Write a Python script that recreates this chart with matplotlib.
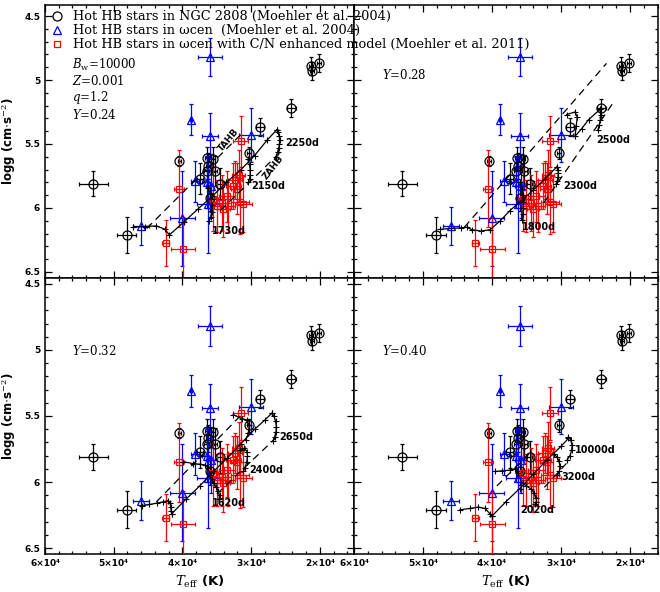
import matplotlib
matplotlib.use('Agg')
import matplotlib.pyplot as plt
from matplotlib.ticker import MultipleLocator, FixedLocator

plt.rcParams['font.family'] = ['DejaVu Sans']
plt.rcParams['mathtext.fontset'] = 'dejavuserif'

# ---------------- observational data ----------------
# NGC 2808 hot HB stars (Moehler et al. 2004)
ngc_T    = [53000, 48100, 40450, 36400, 36250, 35500, 36500, 35300, 37450, 34550, 36000, 30300, 28700, 24150, 21350, 21100, 20150]
ngc_g    = [5.81, 6.21, 5.63, 5.61, 5.67, 5.62, 5.71, 5.71, 5.77, 5.81, 5.92, 5.57, 5.37, 5.22, 4.89, 4.93, 4.87]
ngc_Terr = [2100, 1400, 250, 300, 300, 300, 300, 350, 500, 400, 400, 300, 600, 700, 300, 300, 300]
ngc_gerr = [0.10, 0.14, 0.04, 0.09, 0.10, 0.10, 0.12, 0.12, 0.12, 0.12, 0.10, 0.05, 0.07, 0.07, 0.07, 0.07, 0.07]

# omega Cen hot HB stars (Moehler et al. 2004)
wc_T    = [36000, 38800, 36000, 30050, 46000, 40050, 38200, 36500, 35800, 36300]
wc_g    = [4.82, 5.31, 5.44, 5.43, 6.14, 6.08, 5.79, 5.80, 5.83, 5.97]
wc_Terr = [1750, 150, 1200, 1750, 1150, 1800, 600, 700, 800, 1600]
wc_gerr = [0.15, 0.12, 0.18, 0.21, 0.15, 0.37, 0.16, 0.20, 0.25, 0.38]

# omega Cen with C/N enhanced model (Moehler et al. 2011)
cn_T    = [40550, 42450, 39930, 31550, 31850, 32600, 33550, 34300, 31650, 31150, 35050, 33350, 34050, 35500, 32350, 32100]
cn_g    = [5.85, 6.27, 6.32, 5.48, 5.745, 5.83, 5.91, 5.96, 5.95, 5.97, 5.985, 5.985, 6.01, 5.93, 5.78, 5.85]
cn_Terr = [700, 500, 1750, 1150, 900, 1100, 1200, 900, 1300, 1200, 800, 1000, 900, 700, 1000, 900]
cn_gerr = [0.30, 0.18, 0.25, 0.20, 0.20, 0.18, 0.20, 0.22, 0.25, 0.22, 0.20, 0.20, 0.22, 0.25, 0.15, 0.20]

legend_labels = ["Hot HB stars in NGC 2808 (Moehler et al. 2004)",
                 "Hot HB stars in \u03c9cen  (Moehler et al. 2004)",
                 "Hot HB stars in \u03c9cen with C/N enhanced model (Moehler et al. 2011)"]

# ---------------- model tracks (T_eff, logg) ----------------
# Y = 0.24
dash_024 = [[(45200, 6.16), (31400, 5.42)], [(34500, 6.02), (25500, 5.55)]]
track_024 = [
    [(47150, 6.15), (45500, 6.145), (43800, 6.14), (42600, 6.165), (41900, 6.21), (39800, 6.11), (37800, 6.01),
     (35700, 5.91), (33600, 5.80), (31500, 5.70), (29500, 5.59), (27700, 5.47), (26300, 5.39)],
    [(26300, 5.39), (26050, 5.41), (25900, 5.44), (25850, 5.47), (25900, 5.50), (26000, 5.53), (26150, 5.56), (26400, 5.60)],
    [(30500, 5.62), (30250, 5.66), (30150, 5.70), (30150, 5.74), (30250, 5.77), (30400, 5.80)],
    [(36300, 5.84), (36000, 5.88), (35800, 5.93), (35700, 5.98), (35750, 6.03), (35900, 6.07), (36100, 6.10)],
]
label_024 = [("2250d", 25100, 5.49), ("2150d", 29950, 5.83), ("1730d", 35760, 6.18)]

# Y = 0.28
dash_028 = [[(44000, 6.15), (23400, 4.87)], [(32500, 5.96), (22200, 5.16)]]
track_028 = [
    [(47540, 6.167), (46000, 6.16), (44500, 6.155), (43670, 6.15), (42900, 6.17), (41600, 6.18), (40300, 6.17),
     (38800, 6.10), (37400, 6.02), (35700, 5.94), (34000, 5.86), (32300, 5.77), (30620, 5.68)],
    [(30620, 5.68), (30450, 5.70), (30400, 5.73), (30450, 5.76), (30550, 5.79), (30700, 5.81)],
    [(29170, 5.27), (27970, 5.25), (27640, 5.29), (27800, 5.36), (27970, 5.44), (27000, 5.38), (26000, 5.31), (24350, 5.23)],
    [(24350, 5.23), (24250, 5.27), (24300, 5.31), (24450, 5.35), (24650, 5.39)],
    [(35900, 5.80), (35700, 5.85), (35550, 5.90), (35450, 5.95), (35450, 6.00), (35550, 6.05), (35700, 6.09)],
]
label_028 = [("2500d", 24830, 5.47), ("2300d", 29670, 5.83), ("1800d", 35700, 6.15)]

# Y = 0.32
dash_032 = [[(43800, 6.15), (31600, 5.50)], [(35000, 6.09), (26300, 5.66)]]
track_032 = [
    [(45900, 6.18), (44800, 6.17), (43750, 6.16), (42800, 6.15), (42070, 6.14), (41800, 6.16), (41700, 6.19), (41650, 6.22), (41570, 6.24)],
    [(41570, 6.24), (39500, 6.13), (37500, 6.03), (35500, 5.92), (33500, 5.82), (31500, 5.71), (29500, 5.60), (28000, 5.53), (27030, 5.48)],
    [(27030, 5.48), (26700, 5.50), (26450, 5.54), (26350, 5.58), (26400, 5.62), (26600, 5.66), (26850, 5.69)],
    [(31640, 5.76), (31000, 5.745), (30600, 5.77), (30550, 5.80), (30650, 5.85), (30900, 5.89), (31150, 5.92)],
    [(36000, 5.95), (35700, 5.98), (35400, 6.01), (35100, 6.04), (34800, 6.07), (34600, 6.10), (34700, 6.13)],
    [(39880, 5.846), (38500, 5.86), (37500, 5.865), (36730, 5.871), (36250, 5.896), (36000, 5.947)],
    [(32610, 5.49), (31400, 5.52), (30660, 5.53), (30300, 5.57), (30400, 5.63), (30800, 5.68)],
]
label_032 = [("2650d", 25920, 5.66), ("2400d", 30300, 5.91), ("1620d", 35760, 6.16)]

# Y = 0.40
dash_040 = [[(39300, 6.03), (34500, 5.78)], [(32400, 6.04), (28700, 5.83)]]
track_040 = [
    [(44640, 6.21), (43190, 6.20), (41990, 6.19), (41010, 6.20), (40290, 6.24), (40040, 6.26)],
    [(40040, 6.26), (38000, 6.15), (36000, 6.05), (34000, 5.94), (32000, 5.83), (30000, 5.73), (28940, 5.67)],
    [(28940, 5.66), (28600, 5.68), (28400, 5.72), (28450, 5.76), (28700, 5.80), (29080, 5.83)],
    [(31000, 5.79), (30600, 5.81), (30300, 5.84), (30150, 5.88), (30250, 5.92), (30540, 5.95)],
    [(35500, 6.01), (35000, 6.03), (34400, 6.05), (33900, 6.08), (33600, 6.12), (33550, 6.15), (33800, 6.17)],
    [(39570, 5.92), (38500, 5.915), (37400, 5.91), (36700, 5.90), (36300, 5.93)],
]
label_040 = [("10000d", 27970, 5.76), ("3200d", 29900, 5.96), ("2020d", 35940, 6.21)]

xticks = [60000, 50000, 40000, 30000, 20000]
xticklabels = ["6\u00d710\u2074", "5\u00d710\u2074", "4\u00d710\u2074", "3\u00d710\u2074", "2\u00d710\u2074"]
yticks = [4.5, 5.0, 5.5, 6.0, 6.5]
yticklabels = ["4.5", "5", "5.5", "6", "6.5"]

# ---------------- figure ----------------
W, H = 660, 592
fig = plt.figure(figsize=(W / 100, H / 100), dpi=100)

def rect(x0, y0, x1, y1):
    return [x0 / W, 1 - y1 / H, (x1 - x0) / W, (y1 - y0) / H]

ax_tl = fig.add_axes(rect(45, 5, 354, 278))
ax_tr = fig.add_axes(rect(354, 5, 658, 278))
ax_bl = fig.add_axes(rect(45, 278, 354, 554))
ax_br = fig.add_axes(rect(354, 278, 658, 554))

panels = [
    (ax_tl, dash_024, track_024, label_024, (60000, 15050), (6.547, 4.414), False, True),
    (ax_tr, dash_028, track_028, label_028, (60000, 15940), (6.547, 4.414), False, False),
    (ax_bl, dash_032, track_032, label_032, (60000, 15050), (6.545, 4.455), True, True),
    (ax_br, dash_040, track_040, label_040, (60000, 15940), (6.545, 4.455), True, False),
]

for ax, dashes, tracks, labels, xl, yl, showx, showy in panels:
    # data
    ax.errorbar(ngc_T, ngc_g, xerr=ngc_Terr, yerr=ngc_gerr, fmt='o', ms=6.5, mfc='none', mec='k',
                mew=0.9, ecolor='k', elinewidth=0.9, capsize=1.5, capthick=0.9, zorder=3)
    ax.errorbar(wc_T, wc_g, xerr=wc_Terr, yerr=wc_gerr, fmt='^', ms=5.5, mfc='none', mec='blue',
                mew=0.9, ecolor='blue', elinewidth=0.9, capsize=1.5, capthick=0.9, zorder=3)
    ax.errorbar(cn_T, cn_g, xerr=cn_Terr, yerr=cn_gerr, fmt='s', ms=5, mfc='none', mec='red',
                mew=0.9, ecolor='red', elinewidth=0.9, capsize=1.5, capthick=0.9, zorder=3)
    # dashed ZAHB / TAHB
    for d in dashes:
        ax.plot([p[0] for p in d], [p[1] for p in d], ls=(0, (6, 4)), color='k', lw=0.9, zorder=4)
    # tracks
    for tr in tracks:
        ax.plot([p[0] for p in tr], [p[1] for p in tr], '-', color='k', lw=0.9,
                marker='+', ms=4, mew=0.8, zorder=5)
    for txt, t, g in labels:
        ax.text(t, g, txt, fontsize=7, fontweight='bold', ha='left', va='center', zorder=6)

    ax.set_xlim(*xl)
    ax.set_ylim(*yl)
    ax.xaxis.set_major_locator(FixedLocator(xticks))
    ax.xaxis.set_minor_locator(MultipleLocator(2000))
    ax.yaxis.set_major_locator(FixedLocator(yticks))
    ax.yaxis.set_minor_locator(MultipleLocator(0.1))
    ax.tick_params(which='both', direction='in', top=True, right=True, width=0.9)
    ax.tick_params(which='major', length=5)
    ax.tick_params(which='minor', length=2.5)
    for s in ax.spines.values():
        s.set_linewidth(1.1)
    if showx:
        ax.set_xticklabels(xticklabels, fontsize=6.5, fontweight='bold')
        ax.set_xlabel(r'$T_{\rm eff}$ (K)', fontsize=9.5, fontweight='bold', labelpad=4)
    else:
        ax.set_xticklabels([])
    if showy:
        ax.set_yticklabels(yticklabels, fontsize=6.5, fontweight='bold')
        ax.set_ylabel(r'logg (cm$\cdot$s$^{-2}$)', fontsize=8.5, fontweight='bold')
        ax.yaxis.set_label_coords(-27 / 309, 0.5)
    else:
        ax.set_yticklabels([])

# TAHB / ZAHB labels in first panel
ax_tl.text(33300, 5.47, "TAHB", fontsize=6.5, fontweight='bold', rotation=50, ha='center', va='center')
ax_tl.text(26800, 5.68, "ZAHB", fontsize=6.5, fontweight='bold', rotation=52, ha='center', va='center')

# panel parameter texts
pfont = dict(fontsize=8.5, family='DejaVu Serif', va='center', ha='left')
fig.text(72 / W, 1 - 65 / H, r'$B_{\rm w}$=10000', **pfont)
fig.text(72 / W, 1 - 81 / H, r'$Z$=0.001', **pfont)
fig.text(72 / W, 1 - 97 / H, r'$q$=1.2', **pfont)
fig.text(72 / W, 1 - 115 / H, r'$Y$=0.24', **pfont)
fig.text(382 / W, 1 - 75 / H, r'$Y$=0.28', **pfont)
fig.text(72 / W, 1 - 351 / H, r'$Y$=0.32', **pfont)
fig.text(382 / W, 1 - 351 / H, r'$Y$=0.40', **pfont)

# legend (manual)
leg_markers = [('o', 'k', 6.5), ('^', 'blue', 5.5), ('s', 'red', 5)]
for i, (lab, (m, c, ms)) in enumerate(zip(legend_labels, leg_markers)):
    yy = 1 - (16 + 14 * i) / H
    ax_tl.plot([57 / W], [yy], marker=m, ms=ms, mfc='none', mec=c, mew=0.9,
               transform=fig.transFigure, clip_on=False, zorder=10)
    fig.text(73 / W, yy, lab, fontsize=9.3, family='DejaVu Serif', va='center', ha='left', zorder=10)

fig.savefig('out.png', dpi=100)
